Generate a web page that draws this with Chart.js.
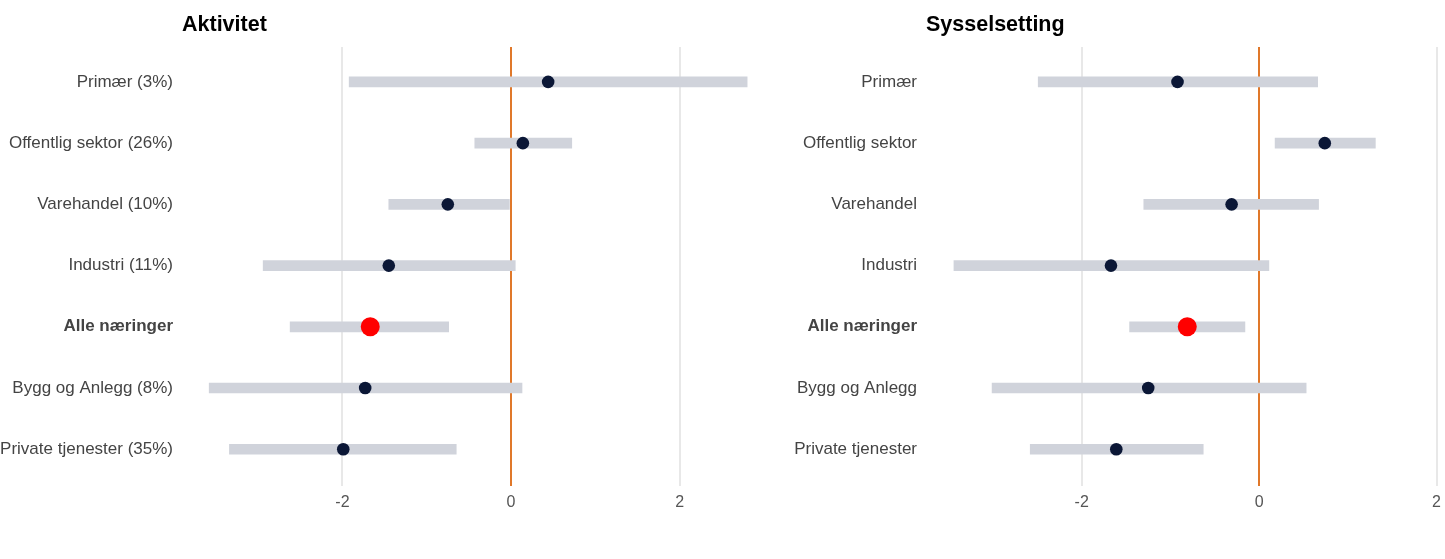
<!DOCTYPE html>
<html>
<head>
<meta charset="utf-8">
<script src="https://cdn.jsdelivr.net/npm/chart.js@4.4.1/dist/chart.umd.min.js"></script>
<style>
  html, body { margin: 0; padding: 0; background: #fff; overflow: hidden; }
  .panel { position: absolute; top: 0; }
</style>
</head>
<body>
<div class="panel" style="left:0px"><canvas id="aktivitet" width="780" height="559"></canvas></div>
<div class="panel" style="left:780px"><canvas id="sysselsetting" width="680" height="559"></canvas></div>
<script>
// data
const kategorierAktivitet = ["Primær (3%)", "Offentlig sektor (26%)", "Varehandel (10%)", "Industri (11%)", "Alle næringer", "Bygg og Anlegg (8%)", "Private tjenester (35%)"];
const kategorierSyssel = ["Primær", "Offentlig sektor", "Varehandel", "Industri", "Alle næringer", "Bygg og Anlegg", "Private tjenester"];

const aktivitetLav = [-1.92, -0.43, -1.45, -2.94, -2.62, -3.58, -3.34];
const aktivitetHoy = [2.80, 0.72, -0.02, 0.05, -0.74, 0.13, -0.65];
const aktivitetPunkt = [0.44, 0.14, -0.75, -1.45, -1.67, -1.73, -1.99];

const sysselLav = [-2.49, 0.18, -1.30, -3.44, -1.46, -3.01, -2.58];
const sysselHoy = [0.66, 1.31, 0.67, 0.11, -0.16, 0.53, -0.63];
const sysselPunkt = [-0.92, 0.74, -0.31, -1.67, -0.81, -1.25, -1.61];

const xTicks = [-2, 0, 2];
const totalIndeks = 4;

const FONT = "'Liberation Sans', Arial, sans-serif";

const tittelPlugin = {
  id: "panelTittel",
  afterDraw(chart, args, opts) {
    const ctx = chart.ctx;
    ctx.save();
    ctx.font = "bold 21.5px " + FONT;
    ctx.fillStyle = "#000";
    ctx.textBaseline = "middle";
    ctx.textAlign = "left";
    ctx.fillText(opts.text, opts.x, opts.y);
    ctx.restore();
  }
};

function lagPanel(id, tittel, tittelX, kategorier, lav, hoy, punkt, xMin, xMax, yBredde, hoyrePad) {
  const stolper = kategorier.map((_, i) => ({ y: i, x: [lav[i], hoy[i]] }));
  const punkter = kategorier.map((_, i) => ({ y: i, x: punkt[i] }));

  new Chart(document.getElementById(id), {
    type: "bar",
    data: {
      datasets: [
        {
          type: "scatter",
          data: punkter,
          pointRadius: kategorier.map((_, i) => i === totalIndeks ? 9.5 : 6.3),
          pointHoverRadius: kategorier.map((_, i) => i === totalIndeks ? 9.5 : 6.3),
          pointBackgroundColor: kategorier.map((_, i) => i === totalIndeks ? "#ff0000" : "#0b1736"),
          pointBorderWidth: 0,
          order: 0
        },
        {
          type: "bar",
          data: stolper,
          backgroundColor: "#d0d3db",
          barThickness: 10,
          borderSkipped: false,
          order: 1
        }
      ]
    },
    options: {
      indexAxis: "y",
      responsive: false,
      animation: false,
      devicePixelRatio: 1,
      layout: { padding: { top: 47, bottom: 43, left: 0, right: hoyrePad } },
      plugins: {
        legend: { display: false },
        tooltip: { enabled: false },
        panelTittel: { text: tittel, x: tittelX, y: 25 }
      },
      scales: {
        x: {
          type: "linear",
          position: "bottom",
          min: xMin,
          max: xMax,
          offset: false,
          z: 1,
          afterBuildTicks: (s) => { s.ticks = xTicks.map(v => ({ value: v })); },
          afterFit: (s) => { s.height = 30; },
          border: { display: false },
          grid: {
            drawTicks: false,
            color: (c) => c.tick && c.tick.value === 0 ? "#e0782a" : "rgba(0,0,0,0.09)",
            lineWidth: 2
          },
          ticks: {
            padding: 7,
            color: "#555",
            font: { family: FONT, size: 16 }
          }
        },
        y: {
          type: "linear",
          position: "left",
          reverse: true,
          offset: false,
          min: -0.57,
          max: 6.6,
          afterBuildTicks: (s) => { s.ticks = kategorier.map((_, i) => ({ value: i })); },
          afterFit: (s) => { s.width = yBredde; s.paddingTop = 0; s.paddingBottom = 0; },
          border: { display: false },
          grid: { display: false, drawTicks: false },
          ticks: {
            padding: 5,
            color: "#444",
            autoSkip: false,
            callback: (v) => kategorier[v],
            font: (c) => ({
              family: FONT,
              size: 17,
              weight: c.tick && c.tick.value === totalIndeks ? "bold" : "normal"
            })
          }
        }
      }
    },
    plugins: [tittelPlugin]
  });
}

lagPanel("aktivitet", "Aktivitet", 182, kategorierAktivitet, aktivitetLav, aktivitetHoy, aktivitetPunkt, -3.95, 3.0, 178, 16);
lagPanel("sysselsetting", "Sysselsetting", 146, kategorierSyssel, sysselLav, sysselHoy, sysselPunkt, -3.8, 2.05, 142, 19);
</script>
</body>
</html>
